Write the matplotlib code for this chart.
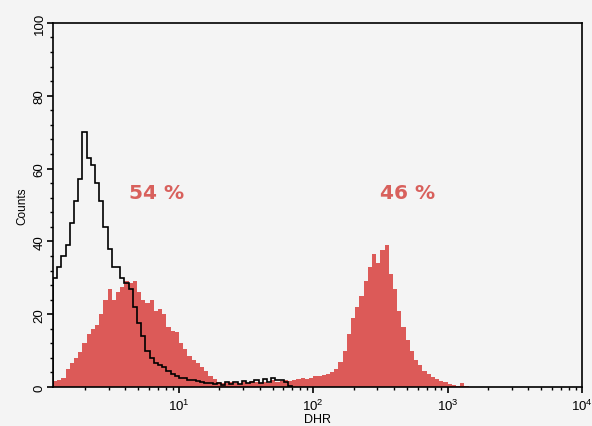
import matplotlib
matplotlib.use("Agg")
import matplotlib.pyplot as plt
import numpy as np
from matplotlib.ticker import MultipleLocator, LogLocator, NullFormatter

plt.rcParams.update({"font.family": ["Liberation Sans", "DejaVu Sans"]})

# log-channel bins: 32 per decade, starting at 10^(2/32)
BINS_PER_DECADE = 32
N_BINS = 126

# DHR stained sample (filled red histogram), counts per channel
dhr_counts = [
    1.7, 2.0, 2.5, 5.0, 6.5, 8.0, 9.6, 12.0, 14.5, 16.0,
    17.0, 20.0, 24.0, 27.0, 24.0, 26.0, 27.5, 29.0, 28.5, 29.0,
    26.0, 24.0, 23.0, 24.0, 21.0, 21.5, 20.0, 16.5, 15.5, 15.0,
    12.0, 10.5, 8.5, 7.5, 6.5, 5.5, 4.5, 3.0, 2.2, 1.5,
    1.2, 1.0, 1.5, 1.2, 0.8, 1.4, 1.1, 1.6, 1.3, 1.0,
    1.5, 1.2, 1.8, 1.4, 1.6, 2.0, 1.7, 2.0, 2.2, 2.4,
    2.2, 2.6, 3.0, 3.0, 3.2, 3.5, 4.0, 5.0, 7.0, 10.0,
    14.5, 19.0, 22.0, 25.0, 29.0, 33.0, 36.5, 34.0, 37.5, 39.0,
    31.0, 27.0, 21.0, 16.5, 13.0, 10.0, 7.5, 6.0, 4.5, 3.5,
    2.8, 2.2, 1.6, 1.3, 0.9, 0.6, 0.3, 1.0, 0.2, 0.0,
]
dhr_counts = dhr_counts + [0.0] * (N_BINS - len(dhr_counts))

# unstained control (black outline)
ctrl_counts = [
    30, 33, 36, 39, 45, 51, 57, 70, 63, 61,
    56, 51, 44, 38, 33, 33, 30, 28.5, 27, 22,
    17.5, 14, 10, 8, 6.5, 6, 5.5, 4.5, 3.5, 3,
    2.6, 2.4, 2, 1.8, 1.6, 1.4, 1.2, 1.0, 0.8, 1.2,
    0.6, 1.5, 0.9, 1.3, 0.7, 1.6, 1.0, 1.4, 1.8, 1.2,
    2.2, 1.5, 2.4, 1.8, 2.0, 1.5, 0.3,
]

gate_labels = ["54 %", "46 %"]
gate_x = [6.85, 500]
gate_y = [53.5, 53.5]

RED = "#dc5a58"
BG = "#f4f4f4"

edges = 10 ** ((np.arange(N_BINS + 1) + 2) / BINS_PER_DECADE)

fig = plt.figure(figsize=(5.92, 4.27), dpi=100, facecolor=BG)
ax = fig.add_axes([0.0895, 0.0913, 0.8935, 0.8527], facecolor=BG)

ax.stairs(dhr_counts, edges, fill=True, color=RED, lw=0)
ax.stairs(ctrl_counts, edges[:len(ctrl_counts) + 1], color="k", lw=1.2)

for lab, x, y in zip(gate_labels, gate_x, gate_y):
    ax.text(x, y, lab, ha="center", va="center", fontsize=14.5,
            fontweight="bold", color="#d8605c", family="DejaVu Sans")

ax.set_xscale("log")
ax.set_xlim(edges[0], 1e4)
ax.set_ylim(0, 100)
ax.xaxis.set_major_locator(LogLocator(base=10, numticks=10))
ax.xaxis.set_minor_locator(LogLocator(base=10, subs=np.arange(2, 10), numticks=20))
ax.xaxis.set_minor_formatter(NullFormatter())
ax.yaxis.set_major_locator(MultipleLocator(20))
ax.yaxis.set_minor_locator(MultipleLocator(4))

ax.tick_params(which="major", direction="out", length=4.3, width=1.2, labelsize=9.5)
ax.tick_params(which="minor", direction="out", length=2.5, width=1.0)
ax.tick_params(axis="y", labelrotation=90, pad=1)
for lab in ax.get_yticklabels():
    lab.set_va("center")
for sp in ax.spines.values():
    sp.set_linewidth(1.2)

ax.set_xlabel("DHR", fontsize=9, labelpad=0)
ax.set_ylabel("Counts", fontsize=8.5, labelpad=4)

fig.savefig("out.png", dpi=100, facecolor=BG)
